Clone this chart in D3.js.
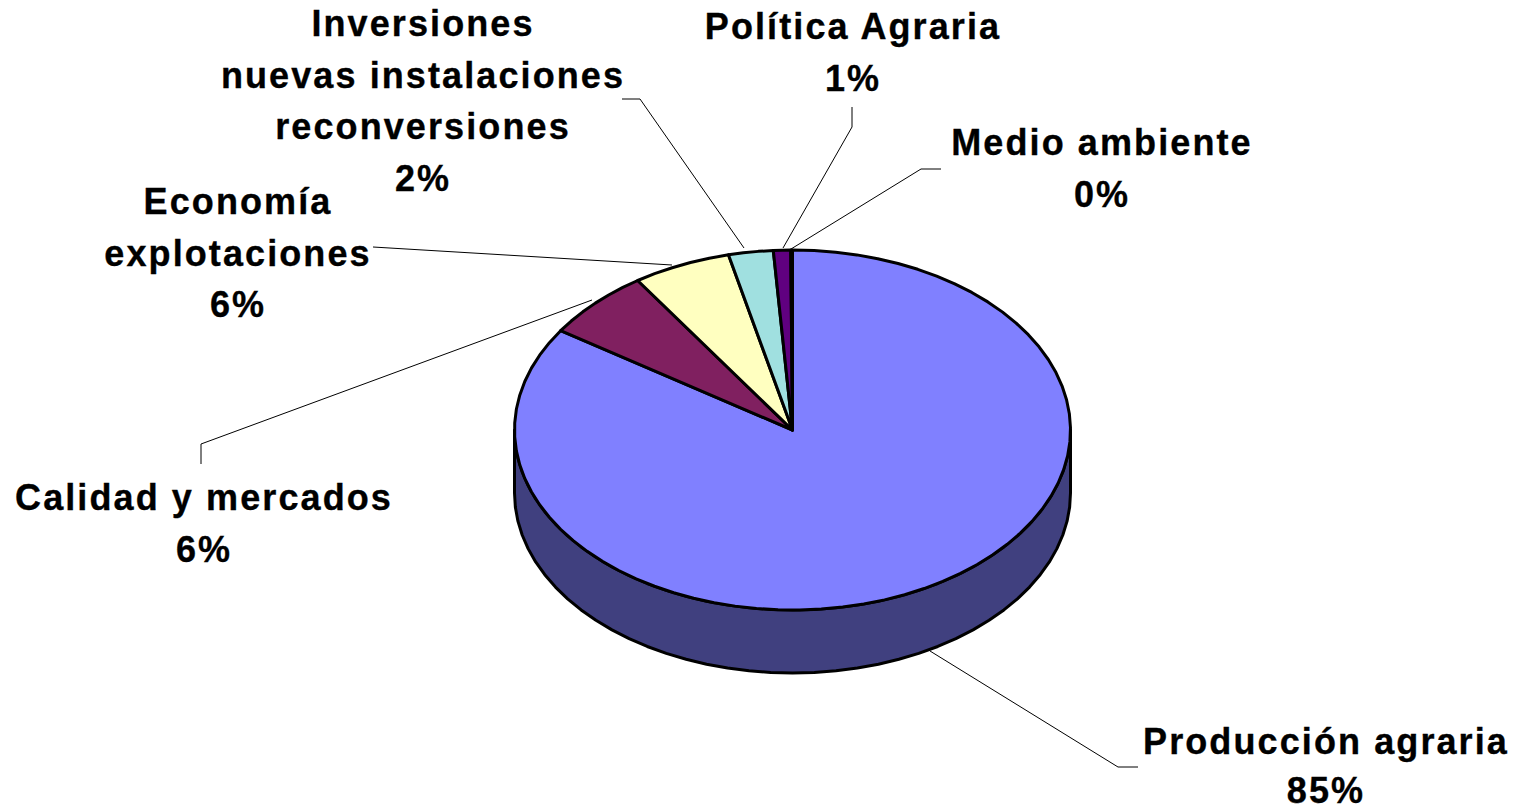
<!DOCTYPE html>
<html><head><meta charset="utf-8">
<script src="https://cdn.jsdelivr.net/npm/d3@7"></script>
<style>html,body{margin:0;padding:0;background:#fff;overflow:hidden}svg{display:block}
text{font-family:"Liberation Sans",Arial,sans-serif;font-weight:bold;font-size:36px;fill:#000;stroke:#000;stroke-width:.35px;text-anchor:middle;letter-spacing:2.1px}</style>
</head><body><svg id="c" width="1521" height="811"></svg>
<script>
const categories=["Producción agraria","Calidad y mercados","Economía explotaciones","Inversiones nuevas instalaciones reconversiones","Política Agraria","Medio ambiente"];
const values=[84.3,6.3,5.7,2.6,1.0,0.1];
const percentLabels=["85%","6%","6%","2%","1%","0%"];
const colors=["#8080ff","#802060","#ffffc0","#a0e0e0","#600080","#0000ff"];
const sideColor="#40407f";

const labelLines=[["Producción agraria"],["Calidad y mercados"],["Economía","explotaciones"],["Inversiones","nuevas instalaciones","reconversiones"],["Política Agraria"],["Medio ambiente"]];
const labelPos=[[1326,754],[204,510],[238,214],[423,36],[853,39],[1102,155]];
const percentLift=[2.5,0,0,0,0,0];
const lineStep=51.5;
const leaders=[
 [[930,651],[1118,767],[1138,767]],
 [[592,300],[201,444],[201,464]],
 [[672,265],[373,247]],
 [[744,248],[640,99],[622,99]],
 [[783,248],[852,127],[852,107]],
 [[791,249],[921,169],[941,169]]];

const cx=792.5,cy=430,rx=278,ry=180,depth=63;
const svg=d3.select("#c");
const xs=d3.scaleLinear().domain([-1,1]).range([cx-rx,cx+rx]);
const ys=d3.scaleLinear().domain([-1,1]).range([cy-ry,cy+ry]);
const px=a=>xs(Math.sin(a)), py=a=>ys(-Math.cos(a));
const line=d3.line();
const arcs=d3.pie().sort(null).value(d=>d)(values);
const seg=Math.PI/40;

// side wall
const wall=d3.range(Math.PI/2,3*Math.PI/2+.001,seg);
const wallTop=wall.map(a=>[px(a),py(a)]), wallBot=wall.map(a=>[px(a),py(a)+depth]).reverse();
svg.append("path").attr("d",line(wallTop.concat(wallBot))+"Z").attr("fill",sideColor).attr("stroke","#000").attr("stroke-width",3).attr("stroke-linejoin","round");

// slices
svg.selectAll("path.s").data(arcs).join("path").attr("class","s")
 .attr("d",d=>{const n=Math.max(1,Math.ceil((d.endAngle-d.startAngle)/seg));
   const pts=d3.range(n+1).map(i=>{const a=d.startAngle+(d.endAngle-d.startAngle)*i/n;return [px(a),py(a)];});
   return line([[cx,cy],...pts])+"Z";})
 .attr("fill",(d,i)=>colors[i]).attr("stroke","#000").attr("stroke-width",3).attr("stroke-linejoin","round");

// leaders
svg.selectAll("path.l").data(leaders).join("path").attr("class","l").attr("d",d=>line(d)).attr("fill","none").attr("stroke","#000").attr("stroke-width",1);

// labels
labelLines.forEach((ls,i)=>{
 [...ls,percentLabels[i]].forEach((t,j)=>svg.append("text").attr("x",labelPos[i][0]).attr("y",labelPos[i][1]+j*lineStep-(j===ls.length?percentLift[i]:0)).text(t));
});
</script></body></html>
